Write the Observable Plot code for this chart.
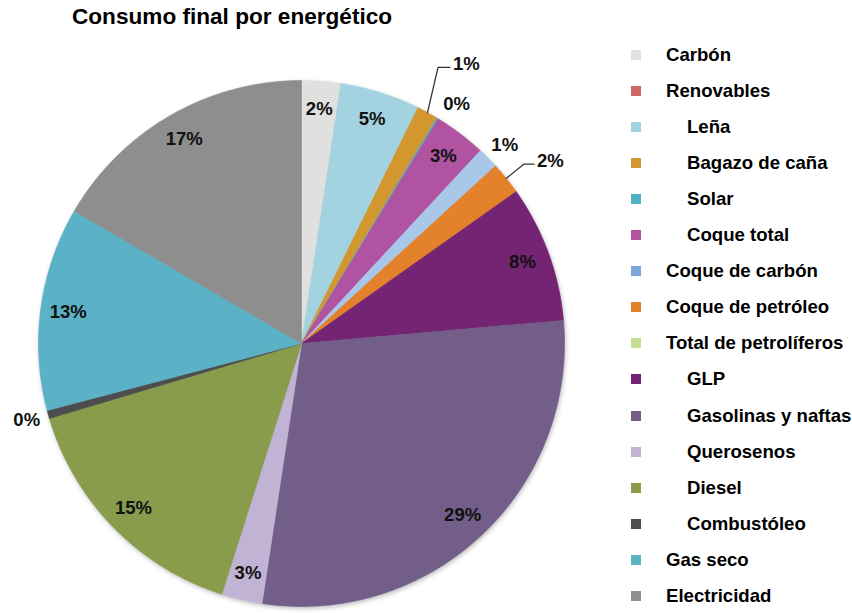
<!DOCTYPE html>
<html>
<head>
<meta charset="utf-8">
<script src="https://cdn.jsdelivr.net/npm/d3@7"></script>
<script src="https://cdn.jsdelivr.net/npm/@observablehq/plot@0.6"></script>
<style>
  body { margin: 0; background: #fff; font-family: "Liberation Sans", Arial, sans-serif; }
  #wrap { position: relative; width: 852px; height: 613px; overflow: hidden; }
  #title { position: absolute; left: 72px; top: 6px; font-size: 22.6px; line-height: 22px; font-weight: bold; color: #000; white-space: nowrap; }
  #chart { position: absolute; left: 0; top: 38px; }
  #legend { position: absolute; left: 0; top: 0; }
  .row { position: absolute; height: 20px; display: flex; align-items: center; font-size: 18.6px; font-weight: bold; color: #000; white-space: nowrap; }
  .sw { width: 10px; height: 10px; flex: none; }
  #chart g[aria-label="line"]:first-of-type { filter: drop-shadow(1px 2px 2px rgba(0,0,0,0.25)); }
</style>
</head>
<body>
<div id="wrap">
  <div id="title">Consumo final por energético</div>
  <div id="chart"></div>
  <div id="legend"></div>
</div>
<script>
// ---- Data ----
const categories = [
  "Carbón", "Renovables", "Leña", "Bagazo de caña", "Solar", "Coque total",
  "Coque de carbón", "Coque de petróleo", "Total de petrolíferos", "GLP",
  "Gasolinas y naftas", "Querosenos", "Diesel", "Combustóleo", "Gas seco", "Electricidad"
];
const shares = [2.4, 0, 4.9, 1.3, 0.1, 3.2, 1.3, 2.0, 0, 8.4, 28.8, 2.5, 15.5, 0.5, 12.5, 16.6];
const pctLabels = ["2%", "", "5%", "1%", "0%", "3%", "1%", "2%", "", "8%", "29%", "3%", "15%", "0%", "13%", "17%"];
const legendLevels = [0, 0, 1, 1, 1, 1, 0, 0, 0, 1, 1, 1, 1, 1, 0, 0];
const colors = [
  "#e0e0df", "#cf6767", "#a3d3e0", "#d3972f", "#4fb1c5", "#b053a0",
  "#a9c7e9", "#e4822c", "#c6df95", "#742472", "#725e88", "#c1b3d3",
  "#889c4b", "#4d4d4d", "#5bb1c6", "#8d8e8d"
];
const legendSwatch = colors.map((c, i) => categories[i] === "Coque de carbón" ? "#7fa6da" : c);

// ---- Layout ----
const W = 852, H = 575, R = 263, cx = 301, cy = 305;
const insideR = 0.895;
const outside = { "Solar": { r: 1.085, da: 1.8 }, "Coque de carbón": { r: 1.08, da: 0.5 }, "Combustóleo": { r: 1.085, da: 0 } };
const leaders = { "Bagazo de caña": { er: 1.171, da: -2.3, len: 12 }, "Coque de petróleo": { er: 1.087, da: 0, len: 10 } };

// ---- Geometry ----
const total = d3.sum(shares);
let acc = 0;
const slices = categories.map((c, i) => {
  const a0 = acc / total * 2 * Math.PI; acc += shares[i];
  const a1 = acc / total * 2 * Math.PI;
  return { c, i, a0, a1, mid: (a0 + a1) / 2 };
});
const pts = [];
for (const s of slices) {
  if (s.a1 - s.a0 <= 0) continue;
  pts.push({ c: s.c, x: 0, y: 0 });
  const n = Math.max(2, Math.ceil((s.a1 - s.a0) / (Math.PI / 360)));
  for (let k = 0; k <= n; k++) {
    const a = s.a0 + (s.a1 - s.a0) * k / n;
    pts.push({ c: s.c, x: Math.sin(a), y: Math.cos(a) });
  }
  pts.push({ c: s.c, x: 0, y: 0 });
}
const deg = Math.PI / 180;
const labels = [], leaderPts = [], leaderLabels = [];
for (const s of slices) {
  const t = pctLabels[s.i];
  if (!t) continue;
  if (leaders[s.c]) {
    const L = leaders[s.c];
    const e = { x: Math.sin(s.mid), y: Math.cos(s.mid) };
    const b = { x: L.er * Math.sin(s.mid + L.da * deg), y: L.er * Math.cos(s.mid + L.da * deg) };
    const f = { x: b.x + L.len / R, y: b.y };
    leaderPts.push({ c: s.c, ...e }, { c: s.c, ...b }, { c: s.c, ...f });
    leaderLabels.push({ t, x: f.x + 3 / R, y: f.y });
  } else {
    const o = outside[s.c];
    const r = o ? o.r : insideR;
    const a = s.mid + (o ? o.da * deg : 0);
    labels.push({ t, x: r * Math.sin(a), y: r * Math.cos(a) });
  }
}

const plot = Plot.plot({
  width: W, height: H,
  marginTop: 0, marginRight: 0, marginBottom: 0, marginLeft: 0,
  x: { domain: [-cx / R, (W - cx) / R], axis: null },
  y: { domain: [-(H - cy) / R, cy / R], axis: null },
  color: { domain: categories, range: colors },
  style: { fontFamily: "'Liberation Sans', Arial, sans-serif", background: "#fff" },
  marks: [
    Plot.line(pts, { x: "x", y: "y", z: "c", fill: "c", stroke: "c", strokeWidth: 0.6, curve: "linear" }),
    Plot.line(leaderPts, { x: "x", y: "y", z: "c", stroke: "#333", strokeWidth: 1.3 }),
    Plot.text(labels, { x: "x", y: "y", text: "t", fontSize: 18.5, fontWeight: "bold", fill: "#111" }),
    Plot.text(leaderLabels, { x: "x", y: "y", text: "t", dy: -3, textAnchor: "start", fontSize: 18.5, fontWeight: "bold", fill: "#111" })
  ]
});
document.getElementById("chart").appendChild(plot);

// ---- Legend ----
const legend = d3.select("#legend");
categories.forEach((c, i) => {
  const row = legend.append("div").attr("class", "row")
    .style("left", "631px").style("top", (44.8 + 36.07 * i) + "px");
  row.append("div").attr("class", "sw").style("background", legendSwatch[i])
    .style("margin-right", (25 + (legendLevels[i] ? 21 : 0)) + "px");
  row.append("span").text(c);
});
</script>
</body>
</html>
